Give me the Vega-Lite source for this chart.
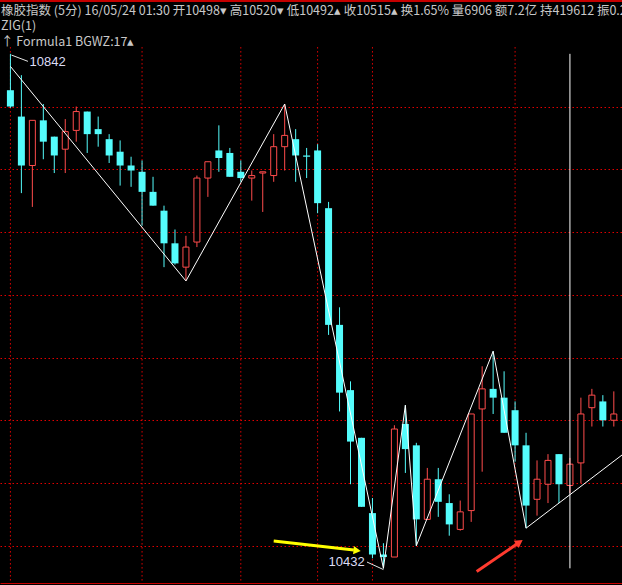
{
  "$schema": "https://vega.github.io/schema/vega-lite/v6.json",
  "width": 622,
  "height": 582,
  "autosize": {"type": "none"},
  "padding": {"top": 1, "left": 0, "right": 0, "bottom": 2},
  "background": "#000000",
  "config": {"view": {"stroke": null}, "font": "Noto Sans CJK SC"},
  "title": {
    "text": "橡胶指数 (5分) 16/05/24 01:30 开10498▾ 高10520▾ 低10492▴ 收10515▴ 换1.65% 量6906 额7.2亿 持419612 振0.2",
    "subtitle": ["ZIG(1)", " ↑ Formula1 BGWZ:17▴"],
    "anchor": "start",
    "frame": "group",
    "orient": "top",
    "offset": -48,
    "dx": 1,
    "font": "Noto Sans CJK SC",
    "fontSize": 12.5,
    "fontWeight": "normal",
    "color": "#c8c8c8",
    "lineHeight": 15,
    "subtitleFont": "Noto Sans CJK SC",
    "subtitleFontSize": 12.5,
    "subtitleColor": "#c8c8c8",
    "subtitleLineHeight": 16,
    "subtitlePadding": 3
  },
  "datasets": {
    "bars": [
      {"i": 0, "o": 10813, "h": 10842, "l": 10799, "c": 10800},
      {"i": 1, "o": 10792, "h": 10825, "l": 10731, "c": 10753},
      {"i": 2, "o": 10753, "h": 10789, "l": 10720, "c": 10789},
      {"i": 3, "o": 10789, "h": 10802, "l": 10758, "c": 10772},
      {"i": 4, "o": 10776, "h": 10776, "l": 10747, "c": 10761},
      {"i": 5, "o": 10766, "h": 10790, "l": 10747, "c": 10780},
      {"i": 6, "o": 10781, "h": 10800, "l": 10772, "c": 10796},
      {"i": 7, "o": 10796, "h": 10796, "l": 10763, "c": 10778},
      {"i": 8, "o": 10782, "h": 10792, "l": 10768, "c": 10778},
      {"i": 9, "o": 10774, "h": 10778, "l": 10755, "c": 10761},
      {"i": 10, "o": 10764, "h": 10773, "l": 10737, "c": 10753},
      {"i": 11, "o": 10753, "h": 10760, "l": 10736, "c": 10749},
      {"i": 12, "o": 10748, "h": 10757, "l": 10705, "c": 10732},
      {"i": 13, "o": 10732, "h": 10744, "l": 10721, "c": 10721},
      {"i": 14, "o": 10717, "h": 10721, "l": 10672, "c": 10691},
      {"i": 15, "o": 10691, "h": 10702, "l": 10674, "c": 10675},
      {"i": 16, "o": 10672, "h": 10697, "l": 10661, "c": 10688},
      {"i": 17, "o": 10692, "h": 10745, "l": 10688, "c": 10743},
      {"i": 18, "o": 10743, "h": 10756, "l": 10728, "c": 10756},
      {"i": 19, "o": 10765, "h": 10785, "l": 10748, "c": 10759},
      {"i": 20, "o": 10763, "h": 10767, "l": 10744, "c": 10744},
      {"i": 21, "o": 10748, "h": 10757, "l": 10740, "c": 10743},
      {"i": 22, "o": 10743, "h": 10749, "l": 10725, "c": 10745},
      {"i": 23, "o": 10747, "h": 10748, "l": 10716, "c": 10748},
      {"i": 24, "o": 10745, "h": 10778, "l": 10740, "c": 10768},
      {"i": 25, "o": 10768, "h": 10802, "l": 10749, "c": 10777},
      {"i": 26, "o": 10774, "h": 10782, "l": 10740, "c": 10761},
      {"i": 27, "o": 10761, "h": 10767, "l": 10743, "c": 10760},
      {"i": 28, "o": 10765, "h": 10770, "l": 10715, "c": 10723},
      {"i": 29, "o": 10719, "h": 10724, "l": 10618, "c": 10626},
      {"i": 30, "o": 10626, "h": 10640, "l": 10557, "c": 10572},
      {"i": 31, "o": 10574, "h": 10581, "l": 10499, "c": 10533},
      {"i": 32, "o": 10536, "h": 10536, "l": 10481, "c": 10481},
      {"i": 33, "o": 10476, "h": 10488, "l": 10440, "c": 10443},
      {"i": 34, "o": 10443, "h": 10452, "l": 10432, "c": 10441},
      {"i": 35, "o": 10441, "h": 10546, "l": 10441, "c": 10543},
      {"i": 36, "o": 10547, "h": 10562, "l": 10508, "c": 10527},
      {"i": 37, "o": 10530, "h": 10532, "l": 10450, "c": 10471},
      {"i": 38, "o": 10471, "h": 10512, "l": 10471, "c": 10503},
      {"i": 39, "o": 10503, "h": 10512, "l": 10473, "c": 10485},
      {"i": 40, "o": 10484, "h": 10491, "l": 10458, "c": 10467},
      {"i": 41, "o": 10463, "h": 10486, "l": 10462, "c": 10477},
      {"i": 42, "o": 10478, "h": 10555, "l": 10469, "c": 10555},
      {"i": 43, "o": 10559, "h": 10593, "l": 10509, "c": 10575},
      {"i": 44, "o": 10575, "h": 10605, "l": 10555, "c": 10568},
      {"i": 45, "o": 10568, "h": 10589, "l": 10540, "c": 10540},
      {"i": 46, "o": 10558, "h": 10565, "l": 10517, "c": 10530},
      {"i": 47, "o": 10530, "h": 10540, "l": 10464, "c": 10482},
      {"i": 48, "o": 10487, "h": 10518, "l": 10474, "c": 10503},
      {"i": 49, "o": 10499, "h": 10523, "l": 10484, "c": 10518},
      {"i": 50, "o": 10523, "h": 10523, "l": 10484, "c": 10499},
      {"i": 51, "o": 10498, "h": 10520, "l": 10492, "c": 10515},
      {"i": 52, "o": 10516, "h": 10568, "l": 10500, "c": 10555},
      {"i": 53, "o": 10560, "h": 10575, "l": 10545, "c": 10570},
      {"i": 54, "o": 10565, "h": 10570, "l": 10545, "c": 10550},
      {"i": 55, "o": 10550, "h": 10573, "l": 10545, "c": 10555}
    ],
    "zig": [
      {"i": 0, "v": 10832},
      {"i": 16, "v": 10661},
      {"i": 25, "v": 10802},
      {"i": 34, "v": 10432},
      {"i": 36, "v": 10562},
      {"i": 37, "v": 10450},
      {"i": 44, "v": 10605},
      {"i": 47, "v": 10464},
      {"i": 56, "v": 10524}
    ],
    "sessions": [{"i": 0}, {"i": 12}, {"i": 21}, {"i": 28}, {"i": 33}, {"i": 46}],
    "cursor": [{"i": 51, "top": 10842, "bot": 10432}],
    "extremes": [
      {"i": 0.1, "v": 10841, "i2": 1.6, "v2": 10836, "ti": 1.75, "tv": 10835.5, "label": "10842", "side": "left"},
      {"i": 34, "v": 10431, "i2": 32.5, "v2": 10437, "ti": 32.3, "tv": 10437, "label": "10432", "side": "right"}
    ],
    "yellowArrow": [{"i": 24, "v": 10453.8, "i2": 31.3, "v2": 10446.6, "ti": 31.6, "tv": 10446.2}],
    "redArrow": [{"i": 42.5, "v": 10429.5, "i2": 46.2, "v2": 10451.5, "ti": 46.4, "tv": 10452.8}]
  },
  "layer": [
    {
      "data": {"name": "sessions"},
      "mark": {"type": "rule", "color": "#e00000", "strokeWidth": 1, "strokeDash": [1.5, 2.5]},
      "encoding": {
        "x": {
          "field": "i",
          "type": "quantitative",
          "scale": {"domain": [-0.493, 55.29], "nice": false, "zero": false},
          "axis": {"orient": "bottom", "domainColor": "#c80000", "domainWidth": 1, "labels": false, "ticks": false, "grid": false, "title": null}
        },
        "y": {
          "datum": 10847.4,
          "type": "quantitative",
          "scale": {"domain": [10420.3, 10884.1], "nice": false, "zero": false},
          "axis": {
            "values": [10450, 10500, 10550, 10600, 10650, 10700, 10750, 10800],
            "grid": true,
            "gridColor": "#e00000",
            "gridDash": [1.5, 2.5],
            "gridWidth": 1,
            "labels": false,
            "ticks": false,
            "domain": false,
            "title": null
          }
        },
        "y2": {"datum": 10420.3}
      }
    },
    {
      "data": {"name": "sessions"},
      "mark": {"type": "rule", "color": "#c80000", "strokeWidth": 1},
      "encoding": {"y": {"datum": 10884.1, "type": "quantitative"}}
    },
    {
      "data": {"name": "bars"},
      "mark": {"type": "rule", "strokeWidth": 1},
      "encoding": {
        "x": {"field": "i", "type": "quantitative"},
        "y": {"field": "l", "type": "quantitative"},
        "y2": {"field": "h"},
        "color": {"condition": {"test": "datum.c >= datum.o", "value": "#ff4c4c"}, "value": "#54fcfc"}
      }
    },
    {
      "data": {"name": "bars"},
      "transform": [{"filter": "datum.c < datum.o"}],
      "mark": {"type": "bar", "size": 7, "fill": "#54fcfc", "stroke": null},
      "encoding": {
        "x": {"field": "i", "type": "quantitative"},
        "y": {"field": "o", "type": "quantitative"},
        "y2": {"field": "c"}
      }
    },
    {
      "data": {"name": "bars"},
      "transform": [{"filter": "datum.c >= datum.o"}],
      "mark": {"type": "bar", "size": 6, "fill": "#000000", "stroke": "#ff4c4c", "strokeWidth": 1},
      "encoding": {
        "x": {"field": "i", "type": "quantitative"},
        "y": {"field": "o", "type": "quantitative"},
        "y2": {"field": "c"}
      }
    },
    {
      "data": {"name": "cursor"},
      "mark": {"type": "rule", "color": "#ffffff", "strokeWidth": 1},
      "encoding": {
        "x": {"field": "i", "type": "quantitative"},
        "y": {"field": "top", "type": "quantitative"},
        "y2": {"field": "bot"}
      }
    },
    {
      "data": {"name": "zig"},
      "mark": {"type": "line", "color": "#ffffff", "strokeWidth": 1, "clip": true},
      "encoding": {
        "x": {"field": "i", "type": "quantitative"},
        "y": {"field": "v", "type": "quantitative"}
      }
    },
    {
      "data": {"name": "extremes"},
      "mark": {"type": "rule", "color": "#e6e6e6", "strokeWidth": 1},
      "encoding": {
        "x": {"field": "i", "type": "quantitative"},
        "y": {"field": "v", "type": "quantitative"},
        "x2": {"field": "i2"},
        "y2": {"field": "v2"}
      }
    },
    {
      "data": {"name": "extremes"},
      "transform": [{"filter": "datum.side == 'left'"}],
      "mark": {"type": "text", "align": "left", "baseline": "middle", "fontSize": 13, "color": "#dcdcf5", "font": "Liberation Sans"},
      "encoding": {
        "x": {"field": "ti", "type": "quantitative"},
        "y": {"field": "tv", "type": "quantitative"},
        "text": {"field": "label"}
      }
    },
    {
      "data": {"name": "extremes"},
      "transform": [{"filter": "datum.side == 'right'"}],
      "mark": {"type": "text", "align": "right", "baseline": "middle", "fontSize": 13, "color": "#dcdcf5", "font": "Liberation Sans"},
      "encoding": {
        "x": {"field": "ti", "type": "quantitative"},
        "y": {"field": "tv", "type": "quantitative"},
        "text": {"field": "label"}
      }
    },
    {
      "data": {"name": "yellowArrow"},
      "mark": {"type": "rule", "color": "#ffff00", "strokeWidth": 3},
      "encoding": {
        "x": {"field": "i", "type": "quantitative"},
        "y": {"field": "v", "type": "quantitative"},
        "x2": {"field": "i2"},
        "y2": {"field": "v2"}
      }
    },
    {
      "data": {"name": "yellowArrow"},
      "mark": {"type": "point", "shape": "triangle-right", "filled": true, "color": "#ffff00", "size": 70, "angle": 6, "opacity": 1},
      "encoding": {
        "x": {"field": "ti", "type": "quantitative"},
        "y": {"field": "tv", "type": "quantitative"}
      }
    },
    {
      "data": {"name": "redArrow"},
      "mark": {"type": "rule", "color": "#ff3b2f", "strokeWidth": 3},
      "encoding": {
        "x": {"field": "i", "type": "quantitative"},
        "y": {"field": "v", "type": "quantitative"},
        "x2": {"field": "i2"},
        "y2": {"field": "v2"}
      }
    },
    {
      "data": {"name": "redArrow"},
      "mark": {"type": "point", "shape": "triangle-right", "filled": true, "color": "#ff3b2f", "size": 80, "angle": -34, "opacity": 1},
      "encoding": {
        "x": {"field": "ti", "type": "quantitative"},
        "y": {"field": "tv", "type": "quantitative"}
      }
    }
  ]
}
